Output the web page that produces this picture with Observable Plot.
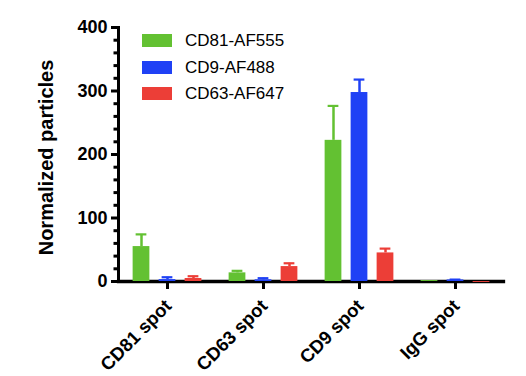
<!DOCTYPE html>
<html>
<head>
<meta charset="utf-8">
<script src="https://cdn.jsdelivr.net/npm/d3@7"></script>
<script src="https://cdn.jsdelivr.net/npm/@observablehq/plot@0.6"></script>
<style>
  html, body { margin: 0; padding: 0; background: #fff; }
  #wrap { position: relative; width: 526px; height: 376px; font-family: "Liberation Sans", Arial, sans-serif; }
  .legend { position: absolute; left: 0; top: 0; }
  .item { position: absolute; display: flex; align-items: center; white-space: nowrap; }
  .sw { width: 30px; height: 13px; margin-right: 13px; }
  .lab { font-size: 17px; color: #000; line-height: 13px; }
</style>
</head>
<body>
<div id="wrap"></div>
<script>
// ---- data ----
const groups = ["CD81 spot", "CD63 spot", "CD9 spot", "IgG spot"];
const seriesNames = ["CD81-AF555", "CD9-AF488", "CD63-AF647"];
const seriesColors = ["#63c132", "#1f41f5", "#ec3e37"];
const cd81Mean = [55, 13.6, 222.3, 1.5];
const cd81Err  = [19.2, 3.2, 54.2, 0];
const cd9Mean  = [3, 2.7, 297.6, 2.5];
const cd9Err   = [3.7, 2.5, 20.4, 0.5];
const cd63Mean = [4.7, 23.5, 45, -1.5];
const cd63Err  = [3.6, 5.2, 6.8, 0];
const yTicks = [0, 100, 200, 300, 400];
const yMinorTicks = d3.range(0, 401, 20).filter(v => v % 100 !== 0);
const yLabel = ["Normalized particles"];

const means = [cd81Mean, cd9Mean, cd63Mean];
const errs = [cd81Err, cd9Err, cd63Err];

// ---- layout ----
const W = 526, H = 376;
const mL = 118, mR = 23, mT = 27, mB = 95;
const bw = (W - mL - mR) / groups.length;
const barW = 17, capW = 11, offset = 26;

const marks = [
  Plot.frame({anchor: "left", strokeWidth: 3, strokeLinecap: "square"}),
  Plot.frame({anchor: "bottom", strokeWidth: 3.3}),
  Plot.axisY(yTicks, {tickSize: 7, strokeWidth: 3, tickPadding: 4, fontSize: 18, fontWeight: "bold", label: null}),
  Plot.axisY(yMinorTicks, {tickSize: 4.5, strokeWidth: 3, text: null, label: null}),
  Plot.axisX({tickSize: 8, strokeWidth: 3, text: null, label: null}),
  Plot.text(groups, {x: d => d, frameAnchor: "bottom", rotate: -45, textAnchor: "end", lineAnchor: "middle", dx: 1, dy: 21.5, fontSize: 18.5, fontWeight: "bold", fill: "#000"}),
  Plot.text(yLabel, {text: d => d, frameAnchor: "left", rotate: -90, dx: -72, dy: 3, fontSize: 20, fontWeight: "bold", textAnchor: "middle", lineAnchor: "middle", fill: "#000"})
];

seriesNames.forEach((s, i) => {
  const rows = groups.map((g, j) => ({group: g, mean: means[i][j], err: errs[i][j]}));
  const withErr = rows.filter(d => d.err > 0);
  const dx = (i - 1) * offset;
  marks.push(
    Plot.ruleX(withErr, {x: "group", y1: "mean", y2: d => d.mean + d.err, stroke: seriesColors[i], strokeWidth: 2.5, dx}),
    Plot.tickY(withErr, {x: "group", y: d => d.mean + d.err, stroke: seriesColors[i], strokeWidth: 2.2, insetLeft: (bw - capW) / 2, insetRight: (bw - capW) / 2, dx}),
    Plot.barY(rows, {x: "group", y1: 0, y2: "mean", fill: seriesColors[i], insetLeft: (bw - barW) / 2, insetRight: (bw - barW) / 2, dx})
  );
});

const chart = Plot.plot({
  width: W, height: H,
  marginLeft: mL, marginRight: mR, marginTop: mT, marginBottom: mB,
  style: {fontFamily: "'Liberation Sans', Arial, sans-serif", fontSize: "18px", fontWeight: "bold", color: "#000", background: "#fff", overflow: "visible"},
  x: {type: "band", domain: groups, padding: 0},
  y: {domain: [0, 400]},
  marks
});

const wrap = document.getElementById("wrap");
wrap.appendChild(chart);

const legend = document.createElement("div");
legend.className = "legend";
seriesNames.forEach((s, i) => {
  const item = document.createElement("div");
  item.className = "item";
  item.style.left = "142px";
  item.style.top = (34 + i * 26.7) + "px";
  const sw = document.createElement("div");
  sw.className = "sw";
  sw.style.background = seriesColors[i];
  const lab = document.createElement("span");
  lab.className = "lab";
  lab.textContent = s;
  item.appendChild(sw);
  item.appendChild(lab);
  legend.appendChild(item);
});
wrap.appendChild(legend);
</script>
</body>
</html>
